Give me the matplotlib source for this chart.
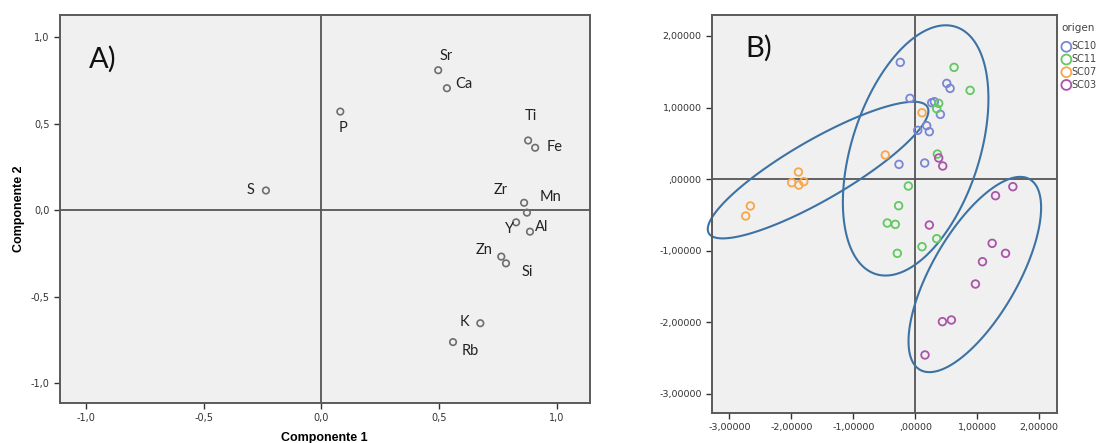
import numpy as np
import matplotlib.pyplot as plt
from matplotlib.patches import Polygon

# ---- panel A: component loadings ----
elements = ['S', 'P', 'Sr', 'Ca', 'Ti', 'Fe', 'Zr', 'Mn', 'Y', 'Al', 'Zn', 'Si', 'K', 'Rb']
comp1 = [-0.235, 0.081, 0.497, 0.534, 0.879, 0.909, 0.862, 0.874, 0.828, 0.887, 0.765, 0.785, 0.676, 0.560]
comp2 = [0.113, 0.569, 0.808, 0.704, 0.402, 0.360, 0.042, -0.015, -0.071, -0.125, -0.269, -0.308, -0.654, -0.763]
# label positions (data units) as placed in the original
lab_x = [-0.299, 0.091, 0.532, 0.608, 0.892, 0.990, 0.761, 0.973, 0.799, 0.935, 0.693, 0.874, 0.607, 0.634]
lab_y = [0.113, 0.475, 0.888, 0.731, 0.544, 0.363, 0.113, 0.073, -0.110, -0.096, -0.233, -0.360, -0.646, -0.812]
ticks_a = [-1.0, -0.5, 0.0, 0.5, 1.0]

# ---- panel B: component scores by origin ----
groups = ['SC10', 'SC11', 'SC07', 'SC03']
colors = ['#7b86d2', '#62c862', '#f8a64a', '#a955a9']
sc10_x = [-0.243, -0.086, 0.507, 0.561, 0.264, 0.307, 0.404, 0.183, 0.226, 0.038, -0.264, 0.151]
sc10_y = [1.631, 1.128, 1.337, 1.267, 1.067, 1.081, 0.904, 0.746, 0.662, 0.680, 0.205, 0.224]
sc11_x = [0.625, 0.884, 0.377, 0.345, 0.356, -0.113, -0.270, -0.453, -0.323, -0.291, 0.108, 0.345]
sc11_y = [1.561, 1.240, 1.058, 0.983, 0.349, -0.098, -0.373, -0.615, -0.634, -1.039, -0.946, -0.834]
sc07_x = [0.108, -0.485, -1.887, -1.995, -1.881, -1.801, -2.663, -2.739]
sc07_y = [0.927, 0.336, 0.098, -0.051, -0.084, -0.037, -0.377, -0.517]
sc03_x = [0.377, 0.442, 0.226, 1.574, 1.294, 1.240, 1.456, 1.084, 0.970, 0.582, 0.437, 0.156]
sc03_y = [0.294, 0.182, -0.643, -0.107, -0.233, -0.899, -1.039, -1.156, -1.468, -1.971, -1.994, -2.460]
xs = [sc10_x, sc11_x, sc07_x, sc03_x]
ys = [sc10_y, sc11_y, sc07_y, sc03_y]
# ellipses: centre and covariance-like shape (sxx, syy, sxy)
ell_cx = [0.005, -1.57, 0.96]
ell_cy = [0.40, 0.125, -1.335]
ell_sxx = [1.38, 3.17, 1.145]
ell_syy = [3.06, 0.912, 1.863]
ell_sxy = [0.85, 1.47, 1.0]
ticks_b = [-3, -2, -1, 0, 1, 2]

fig = plt.figure(figsize=(10.97, 4.43), dpi=100)
bg = '#f0f0f0'
frame = '#5a5a5a'

# panel A
ax = fig.add_axes([0.0547, 0.0903, 0.4827, 0.8758])
ax.set_facecolor(bg)
ax.set_xlim(-1.11, 1.14)
ax.set_ylim(-1.115, 1.127)
ax.axhline(0, color='#555555', lw=1.3, zorder=1)
ax.axvline(0, color='#555555', lw=1.3, zorder=1)
ax.scatter(comp1, comp2, s=22, facecolors='none', edgecolors='#6e6e6e', linewidths=1.2, zorder=3)
for name, x, y in zip(elements, lab_x, lab_y):
    ax.text(x, y, name, ha='center', va='center', fontsize=10.5, family='Lato', color='#222222')
ax.text(0.055, 0.865, 'A)', transform=ax.transAxes, fontsize=21, family='Lato', color='#111111')
ax.set_xticks(ticks_a)
ax.set_yticks(ticks_a)
ax.set_xticklabels([f'{t:.1f}'.replace('.', ',') for t in ticks_a])
ax.set_yticklabels([f'{t:.1f}'.replace('.', ',') for t in ticks_a])
ax.tick_params(labelsize=7, colors='#333333', length=4, width=1, direction='out')
ax.set_xlabel('Componente 1', fontsize=9, fontweight='bold', family='Liberation Sans', labelpad=6)
ax.set_ylabel('Componente 2', fontsize=9, fontweight='bold', family='Liberation Sans', labelpad=4)
for sp in ax.spines.values():
    sp.set_color(frame)
    sp.set_linewidth(1.4)

# panel B
bx = fig.add_axes([0.649, 0.0684, 0.3145, 0.8977])
bx.set_facecolor(bg)
bx.set_xlim(-3.283, 2.286)
bx.set_ylim(-3.267, 2.293)
bx.axhline(0, color='#555555', lw=1.3, zorder=1)
bx.axvline(0, color='#555555', lw=1.3, zorder=1)
for g, c, x, y in zip(groups, colors, xs, ys):
    bx.scatter(x, y, s=30, facecolors='none', edgecolors=c, linewidths=1.3, label=g, zorder=3)
t = np.linspace(0, 2 * np.pi, 400, endpoint=False)
for cx, cy, sxx, syy, sxy in zip(ell_cx, ell_cy, ell_sxx, ell_syy, ell_sxy):
    L = np.linalg.cholesky(np.array([[sxx, sxy], [sxy, syy]]))
    pts = L @ np.vstack([np.cos(t), np.sin(t)])
    poly = Polygon(np.column_stack([cx + pts[0], cy + pts[1]]), closed=True, fill=False,
                   edgecolor='#3d72a4', lw=1.5, zorder=2, clip_on=False)
    bx.add_patch(poly)
bx.text(0.096, 0.894, 'B)', transform=bx.transAxes, fontsize=21, family='Lato', color='#111111')
bx.set_xticks(ticks_b)
bx.set_yticks(ticks_b)
fmt = lambda v: ',00000' if v == 0 else f'{v:.5f}'.replace('.', ',')
bx.set_xticklabels([fmt(v) for v in ticks_b])
bx.set_yticklabels([fmt(v) for v in ticks_b])
bx.tick_params(labelsize=6.8, colors='#333333', length=4, width=1, direction='out')
for sp in bx.spines.values():
    sp.set_color(frame)
    sp.set_linewidth(1.4)
leg = bx.legend(loc='upper left', bbox_to_anchor=(1061 / 1097, 1 - 23 / 443), bbox_transform=fig.transFigure,
                frameon=False, title='origen', fontsize=7, title_fontsize=7.5, borderpad=0,
                handletextpad=0.0, labelspacing=0.28, borderaxespad=0, handlelength=1.1,
                markerscale=1.3, alignment='left')
leg._legend_box.sep = 6
for txt in leg.get_texts():
    txt.set_color('#444444')
leg.get_title().set_color('#444444')

fig.savefig('out.png', dpi=100)
